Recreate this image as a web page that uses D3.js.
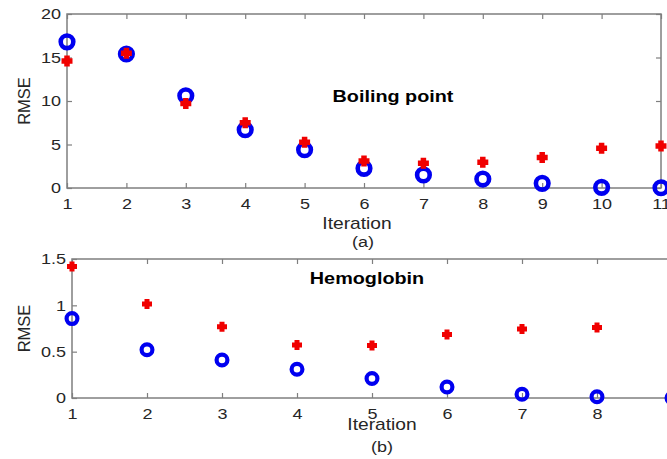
<!DOCTYPE html>
<html><head><meta charset="utf-8">
<script src="https://cdn.jsdelivr.net/npm/d3@7"></script>
<style>body{margin:0;background:#fff}svg{display:block}text{font-family:"Liberation Sans",Arial,sans-serif}</style>
</head><body><svg id="c" width="667" height="459"></svg>
<script>
const iterA = [1,2,3,4,5,6,7,8,9,10,11];
const boilBlue = [16.8,15.4,10.6,6.7,4.4,2.26,1.5,1.03,0.54,0.08,0.03];
const boilRed  = [14.6,15.5,9.7,7.5,5.25,3.1,2.84,2.95,3.5,4.56,4.83];
const yTicksA = [0,5,10,15,20];
const iterB = [1,2,3,4,5,6,7,8,9];
const hemoBlue = [0.857,0.52,0.41,0.31,0.21,0.118,0.04,0.014,0.0];
const hemoRed  = [1.42,1.014,0.77,0.573,0.566,0.685,0.745,0.76,0.78];
const yTicksB = [0,0.5,1,1.5];

const svg = d3.select("#c");
const axisCol = "#7f7f7f", txtCol = "#262626", SX = 1.2;
const plus = {draw(ctx, size){ const a = Math.sqrt(size)/2, b = a/2;
  ctx.moveTo(-b,-a);ctx.lineTo(b,-a);ctx.lineTo(b,-b);ctx.lineTo(a,-b);ctx.lineTo(a,b);ctx.lineTo(b,b);
  ctx.lineTo(b,a);ctx.lineTo(-b,a);ctx.lineTo(-b,b);ctx.lineTo(-a,b);ctx.lineTo(-a,-b);ctx.lineTo(-b,-b);ctx.closePath();}};

function label(g, x, y, txt, size, bold, col){
  g.append("text").attr("transform",`translate(${x},${y}) scale(${SX},1)`).attr("text-anchor","middle")
    .attr("fill",col||txtCol).style("font-size",size+"px").style("font-weight",bold?"bold":"normal").text(txt);
}

function panel(o){
  const x = d3.scaleLinear().domain(o.xdom).range([o.x0,o.x1]);
  const y = d3.scaleLinear().domain(o.ydom).range([o.y1,o.y0]);
  const g = svg.append("g");
  g.append("rect").attr("x",o.x0).attr("y",o.y0).attr("width",o.x1-o.x0).attr("height",o.y1-o.y0)
    .attr("fill","none").attr("stroke",axisCol).attr("stroke-width",1.5);
  const ax = g.append("g").attr("transform",`translate(0,${o.y1})`).call(d3.axisBottom(x).tickValues(o.xt).tickSizeInner(-5).tickSizeOuter(0).tickPadding(10));
  const axT = g.append("g").attr("transform",`translate(0,${o.y0})`).call(d3.axisTop(x).tickValues(o.xt).tickSizeInner(-5).tickSizeOuter(0).tickFormat(""));
  const ay = g.append("g").attr("transform",`translate(${o.x0},0)`).call(d3.axisLeft(y).tickValues(o.yt).tickSizeInner(-5).tickSizeOuter(0).tickPadding(6).tickFormat(d=>String(d)));
  const ayR = g.append("g").attr("transform",`translate(${o.x1},0)`).call(d3.axisRight(y).tickValues(o.yt).tickSizeInner(-5).tickSizeOuter(0).tickFormat(""));
  [ax,axT,ay,ayR].forEach(a=>{a.select(".domain").remove();a.selectAll("line").attr("stroke",axisCol).attr("stroke-width",1.2);
    a.selectAll("text").attr("fill",txtCol).style("font-size","15px");});
  ax.selectAll("text").attr("transform",`scale(${SX},1)`);
  ay.selectAll("text").each(function(){ const t=d3.select(this); const xx=+t.attr("x"); t.attr("x",xx/SX).attr("transform",`scale(${SX},1)`);});
  g.append("text").attr("transform",`translate(${o.ylabX},${(o.y0+o.y1)/2}) rotate(-90)`).attr("text-anchor","middle")
    .attr("fill",txtCol).style("font-size","16.5px").text("RMSE");
  label(g, o.xlabX, o.xlabY, "Iteration", 16, false);
  label(g, o.capX, o.capY, o.cap, 15, false);
  label(g, o.tX, o.tY, o.title, 16.5, true, "#000");
  g.selectAll("circle.b").data(o.xs).join("circle").attr("cx",d=>x(d)).attr("cy",(d,i)=>y(o.blue[i]))
    .attr("r",o.r).attr("fill","none").attr("stroke","#0000f0").attr("stroke-width",o.sw);
  g.selectAll("path.r").data(o.xs).join("path").attr("transform",(d,i)=>`translate(${x(d)},${y(o.red[i])})`)
    .attr("d",d3.symbol().type(plus).size(o.ps*o.ps)).attr("fill","#f00000");
}
panel({xdom:[1,11],ydom:[0,20],x0:67,x1:661,y0:14,y1:188,xt:iterA,yt:yTicksA,xs:iterA,blue:boilBlue,red:boilRed,
  ylabX:30,xlabX:357,xlabY:229,capX:363,capY:247,cap:"(a)",tX:393,tY:102,title:"Boiling point",r:6.3,sw:4.6,ps:11});
panel({xdom:[1,9],ydom:[0,1.5],x0:72,x1:672,y0:259,y1:398,xt:iterB,yt:yTicksB,xs:iterB,blue:hemoBlue,red:hemoRed,
  ylabX:30,xlabX:382,xlabY:430,capX:382,capY:452,cap:"(b)",tX:367,tY:284,title:"Hemoglobin",r:5.4,sw:4.2,ps:10});
</script></body></html>
